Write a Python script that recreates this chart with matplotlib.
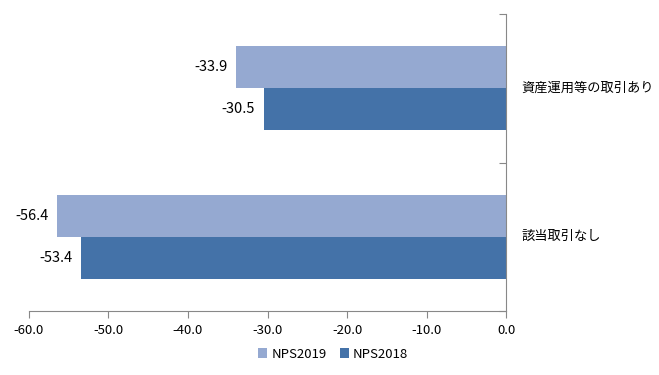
import numpy as np
import matplotlib.pyplot as plt

plt.rcParams['font.family'] = ['Noto Sans CJK JP', 'DejaVu Sans']

categories = ["資産運用等の取引あり", "該当取引なし"]
nps2019 = [-33.9, -56.4]
nps2018 = [-30.5, -53.4]
xticks = [-60, -50, -40, -30, -20, -10, 0]

c2019 = "#95A9D1"
c2018 = "#4472A8"
gray = "#888888"

fig = plt.figure(figsize=(6.59, 3.75), dpi=100)
ax = fig.add_axes([28.7 / 659, 1 - 311 / 375, (506.3 - 28.7) / 659, (311 - 14) / 375])

y = np.arange(len(categories))
h = 0.284
b1 = ax.barh(y - h / 2, nps2019, height=h, color=c2019, label="NPS2019")
b2 = ax.barh(y + h / 2, nps2018, height=h, color=c2018, label="NPS2018")

for bars, vals in [(b1, nps2019), (b2, nps2018)]:
    for bar, v in zip(bars, vals):
        ax.annotate(f"{v:.1f}", (v, bar.get_y() + bar.get_height() / 2),
                    xytext=(-6.5, 0), textcoords="offset points",
                    ha="right", va="center", fontsize=10.5, color="#000000")

ax.set_xlim(-60, 0)
ax.set_ylim(1.5, -0.5)
ax.set_xticks(xticks)
ax.set_xticklabels([f"{t:.1f}" for t in xticks], fontsize=9.5)

ax.yaxis.tick_right()
ax.set_yticks([-0.5, 0.5, 1.5])
ax.set_yticklabels([])
ax.tick_params(axis="y", direction="in", length=5, color=gray)
ax.tick_params(axis="x", direction="out", length=5, color=gray, pad=4)

for s in ["left", "top"]:
    ax.spines[s].set_visible(False)
ax.spines["right"].set_color(gray)
ax.spines["bottom"].set_color(gray)

for yi, cat in zip(y, categories):
    ax.annotate(cat, (0, yi), xytext=(11, 0), textcoords="offset points",
                ha="left", va="center", fontsize=9.5, annotation_clip=False)

ax.legend(loc="center", bbox_to_anchor=(333 / 659, 1 - 354 / 375), bbox_transform=fig.transFigure,
          ncol=2, frameon=False, fontsize=9.5, handlelength=0.7, handleheight=0.7,
          handletextpad=0.3, columnspacing=1.0)

fig.savefig("out.png", dpi=100)
